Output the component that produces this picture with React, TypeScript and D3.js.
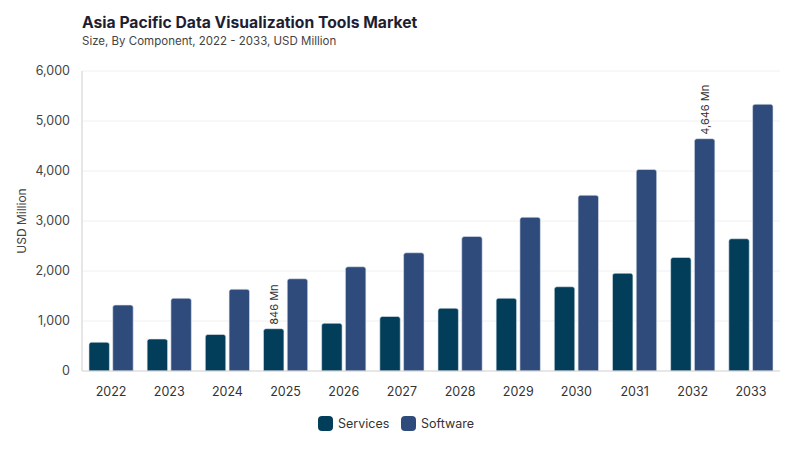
import * as d3 from "d3";

const years = ["2022","2023","2024","2025","2026","2027","2028","2029","2030","2031","2032","2033"];
const services = [575, 640, 730, 846, 955, 1090, 1255, 1455, 1685, 1955, 2270, 2645];
const software = [1320, 1455, 1635, 1845, 2085, 2365, 2690, 3075, 3515, 4030, 4646, 5335];
const series = [
  { name: "Services", values: services, color: "#023e5a" },
  { name: "Software", values: software, color: "#2f4b7c" },
];
const yTicks = [0, 1000, 2000, 3000, 4000, 5000, 6000];
// highlighted value labels: [series index, year index]
const callouts: [number, number][] = [[0, 3], [1, 10]];

const W = 800, H = 450;
const M = { left: 82, right: 20, top: 71, bottom: 79 };
const FONT = "Inter, 'Noto Sans', sans-serif";

export default function App() {
  const x = d3.scaleBand().domain(years).range([M.left, W - M.right]).paddingInner(0.24).paddingOuter(0.12);
  const x1 = d3.scaleBand().domain(series.map((s) => s.name)).range([0, x.bandwidth()]).paddingInner(0.14);
  const y = d3.scaleLinear().domain([0, 6000]).range([H - M.bottom, M.top]);
  const fmt = d3.format(",");

  const barPath = (x0: number, w: number, top: number, bottom: number, r = 2.5) =>
    `M${x0},${bottom}V${top + r}Q${x0},${top} ${x0 + r},${top}H${x0 + w - r}Q${x0 + w},${top} ${x0 + w},${top + r}V${bottom}Z`;

  return (
    <svg width={W} height={H} style={{ position: "absolute", left: 0, top: 0, fontFamily: FONT }}>
      <rect width={W} height={H} fill="#fff" />
      <text x={82} y={28} fontSize={15.7} fontWeight={700} fill="#1e1e32">Asia Pacific Data Visualization Tools Market</text>
      <text x={82} y={45} fontSize={11.5} fill="#444">Size, By Component, 2022 - 2033, USD Million</text>

      {yTicks.map((t) => (
        <g key={t}>
          {t > 0 && <line x1={M.left} x2={W - M.right} y1={y(t)} y2={y(t)} stroke="#f0f0f0" />}
          <text x={70} y={y(t)} dy="0.35em" textAnchor="end" fontSize={12.5} fill="#444">{fmt(t)}</text>
        </g>
      ))}
      <line x1={M.left} x2={M.left} y1={M.top} y2={y(0)} stroke="#dedede" strokeWidth={1.5} />

      <text transform={`translate(26,${(M.top + y(0)) / 2}) rotate(-90)`} textAnchor="middle" fontSize={12} fill="#444">USD Million</text>

      {years.map((yr, i) => (
        <g key={yr}>
          {series.map((s) => {
            const bx = (x(yr) ?? 0) + (x1(s.name) ?? 0);
            return (
              <path key={s.name} d={barPath(bx, x1.bandwidth(), y(s.values[i]), y(0))}
                fill={s.color} stroke="#dfe5ee" strokeWidth={0.6} />
            );
          })}
          <text x={(x(yr) ?? 0) + x.bandwidth() / 2} y={392} dy="0.35em" textAnchor="middle" fontSize={12.5} fill="#333">{yr}</text>
        </g>
      ))}
      <line x1={M.left} x2={W - M.right} y1={y(0)} y2={y(0)} stroke="#cfcfcf" strokeWidth={1.2} />

      {callouts.map(([si, yi]) => {
        const s = series[si];
        const cx = (x(years[yi]) ?? 0) + (x1(s.name) ?? 0) + x1.bandwidth() / 2;
        return (
          <text key={`${si}-${yi}`} transform={`translate(${cx + 4},${y(s.values[yi]) - 4}) rotate(-90)`}
            fontSize={11} fill="#333">{fmt(s.values[yi])} Mn</text>
        );
      })}

      {series.map((s, i) => {
        const lx = 318 + i * 83;
        return (
          <g key={s.name}>
            <rect x={lx} y={416} width={15} height={15} rx={4} fill={s.color} />
            <text x={lx + 20} y={423.5} dy="0.35em" fontSize={12.5} fill="#333">{s.name}</text>
          </g>
        );
      })}
    </svg>
  );
}
